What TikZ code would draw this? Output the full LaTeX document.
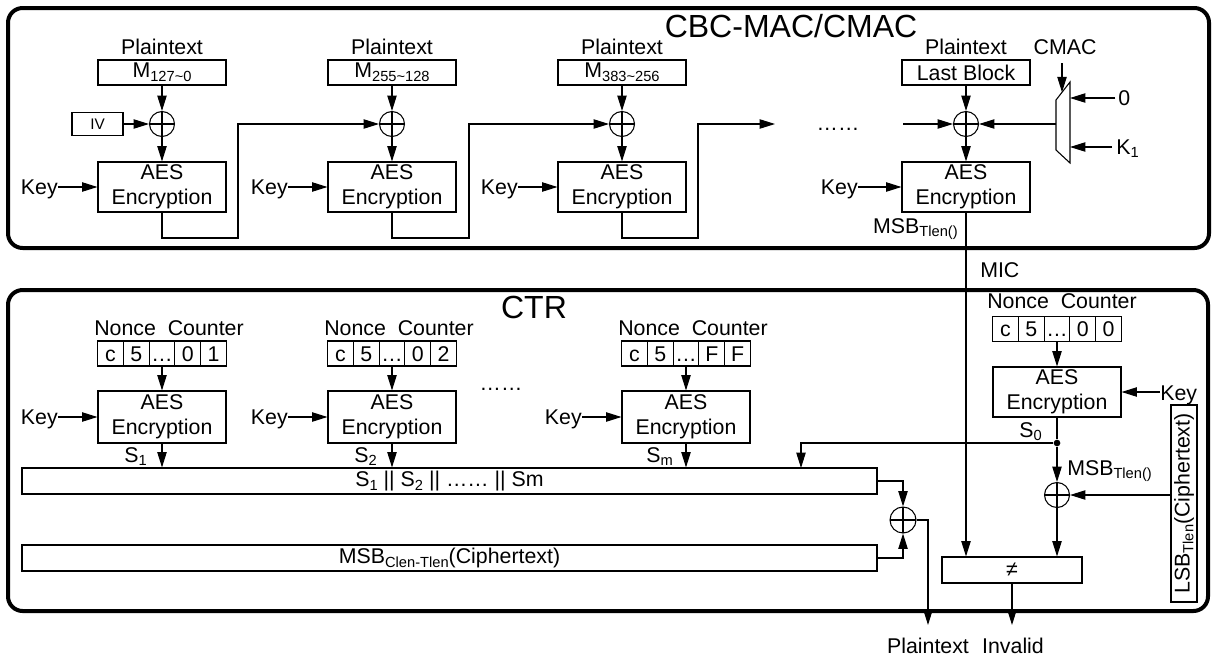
\documentclass[tikz,border=0pt]{standalone}
\usepackage{fontspec}
\setmainfont{Liberation Sans}
\usetikzlibrary{arrows.meta,calc}
\newcommand\sbx[1]{\raisebox{-0.35ex}{\fontsize{11pt}{12pt}\selectfont #1}}
\begin{document}
\begin{tikzpicture}[x=0.75pt,y=-0.75pt,
  every node/.style={font=\fontsize{16pt}{19pt}\selectfont, inner sep=0pt},
  ln/.style={line width=0.8pt},
  arr/.style={ln, -{Triangle[length=11.5pt,width=7pt]}},
  aesbox/.style={draw, ln, minimum width=96pt, minimum height=37.5pt, align=center},
  mbox/.style={draw, ln, minimum width=96pt, minimum height=18.75pt},
  xor/.style={draw, ln, circle, minimum size=18.75pt, path picture={\draw[ln] (path picture bounding box.north) -- (path picture bounding box.south) (path picture bounding box.west) -- (path picture bounding box.east);}},
  cell/.style={draw, ln, minimum width=19.35pt, minimum height=18.75pt, text height=11.4pt, text depth=0pt},
  outerframe/.style={line width=3pt, rounded corners=11pt},
  ttl/.style={font=\fontsize{24pt}{28pt}\selectfont, anchor=base},
  lbl/.style={anchor=base},
]
\useasboundingbox (0,0) rectangle (1212,657);

% ===== CBC-MAC / CMAC =====
\draw[outerframe] (8,8) rectangle (1209,248);
\node[ttl] (t1) at (791,37) {CBC-MAC/CMAC};

\foreach \n/\x/\s in {1/162/127\textasciitilde0, 2/392/255\textasciitilde128, 3/622/383\textasciitilde256} {
  \node[lbl] (pt\n) at (\x,54) {Plaintext};
  \node[mbox] (m\n) at (\x,72.5) {M\sbx{\s}};
  \node[xor] (x\n) at (\x,124) {};
  \node[aesbox] (a\n) at (\x,187) {AES\\Encryption};
  \draw[arr] (m\n) -- (x\n);
  \draw[arr] (x\n) -- (a\n);
  \node[lbl, anchor=base east] (k\n) at ({\x-104},194) {Key};
  \draw[arr] (k\n.east |- a\n.west) -- (a\n.west);
}
\node[lbl] (pt4) at (966,54) {Plaintext};
\node[mbox] (m4) at (966,72.5) {Last Block};
\node[xor] (x4) at (966,124) {};
\node[aesbox] (a4) at (966,187) {AES\\Encryption};
\draw[arr] (m4) -- (x4);
\draw[arr] (x4) -- (a4);
\node[lbl, anchor=base east] (k4) at (858,194) {Key};
\draw[arr] (k4.east |- a4.west) -- (a4.west);

\node[draw, ln, minimum width=38.25pt, minimum height=17.25pt, font=\fontsize{11.5pt}{13pt}\selectfont] (iv) at (97.5,124) {IV};
\draw[arr] (iv) -- (x1);

\coordinate (b1) at (238,238);
\coordinate (b2) at (469,238);
\coordinate (b3) at (698,238);
\coordinate (e3) at (775,124);
\draw[arr] (a1.south) |- (b1) |- (x2.west);
\draw[arr] (a2.south) |- (b2) |- (x3.west);
\draw[arr] (a3.south) |- (b3) |- (e3);
\node[lbl] (dots1) at (838,130) {……};
\coordinate (s4) at (903,124);
\draw[arr] (s4) -- (x4.west);

% mux
\draw[ln] (1056,100) -- (1070,82) -- (1070,163) -- (1056,150) -- cycle;
\coordinate (muxl) at (1056,124);
\coordinate (muxt) at (1062,92.3);
\coordinate (mux0) at (1070,98);
\coordinate (muxk) at (1070,147);
\node[lbl] (cmac) at (1065,54) {CMAC};
\coordinate (cmacs) at (1062,63);
\draw[arr] (cmacs) -- (muxt);
\node[lbl, anchor=base west] (zero) at (1118,105) {0};
\draw[arr] ([xshift=-2pt]zero.west |- mux0) -- (mux0);
\node[lbl, anchor=base west] (kone) at (1116,154) {K\sbx{1}};
\draw[arr] ([xshift=-3pt]kone.west |- muxk) -- (muxk);
\draw[arr] (muxl) -- (x4.east);

\node[lbl, anchor=base east] (msb1) at (958,233) {MSB\sbx{Tlen()}};
\node[lbl, anchor=base west] (mic) at (980,277) {MIC};

% ===== CTR =====
\draw[outerframe] (8,290) rectangle (1208,611);
\node[ttl] (t2) at (534,318) {CTR};

\node[draw, ln, minimum width=641.25pt, minimum height=19.5pt] (cat) at (449.5,481) {S\sbx{1} || S\sbx{2} || …… || Sm};
\node[draw, ln, minimum width=641.25pt, minimum height=19.5pt] (msbc) at (449.5,558) {MSB\sbx{Clen-Tlen}(Ciphertext)};

\foreach \n/\x/\a/\b in {1/162/0/1, 2/392/0/2, 3/686/F/F} {
  \node[lbl] (nc\n) at ({\x+7},335) {Nonce\ \ Counter};
  \foreach \t [count=\i from 0] in {c,5,…,\a,\b}
    \node[cell] (c\n-\i) at ({\x-51.6+25.8*\i},353.5) {\t};
  \node[aesbox, minimum height=39pt] (e\n) at (\x,417) {AES\\Encryption};
  \draw[arr] (c\n-2) -- (e\n);
  \node[lbl, anchor=base east] (ck\n) at ({\x-104},424) {Key};
  \draw[arr] (ck\n.east |- e\n.west) -- (e\n.west);
  \draw[arr] (e\n.south) -- (e\n.south |- cat.north);
}
\node[lbl, anchor=base east] (s1) at (147,462) {S\sbx{1}};
\node[lbl, anchor=base east] (s2) at (377,462) {S\sbx{2}};
\node[lbl, anchor=base east] (sm) at (673,462) {S\sbx{m}};
\node[lbl] (dots2) at (501,390) {……};

\node[xor, minimum size=19.5pt] (x5) at (903,520) {};
\draw[arr] (cat.east) -| (x5.north);
\draw[arr] (msbc.east) -| (x5.south);
\coordinate (p1) at (928,625);
\draw[arr] (x5.east) -| (p1);
\node[lbl] (ptout) at (928,653) {Plaintext};

% block 0
\node[lbl] (nc4) at (1062,308) {Nonce\ \ Counter};
\foreach \t [count=\i from 0] in {c,5,…,0,0}
  \node[cell] (c4-\i) at ({1057-51.6+25.8*\i},329) {\t};
\node[aesbox] (e4) at (1057,392) {AES\\Encryption};
\draw[arr] (c4-2) -- (e4);
\node[lbl, anchor=base west] (ck4) at (1160,400) {Key};
\draw[arr] (ck4.west |- e4.east) -- (e4.east);
\node[circle, fill, minimum size=5pt] (dot) at (1057,443) {};
\draw[ln] (e4.south) -- (dot);
\coordinate (s0t) at (801,468);
\draw[arr] (dot) -| (s0t);
\node[lbl, anchor=base east] (s0) at (1042,437) {S\sbx{0}};
\node[xor] (x6) at (1057,495) {};
\draw[arr] (dot) -- (x6);
\node[lbl, anchor=base west] (msb2) at (1067,475) {MSB\sbx{Tlen()}};
\node[draw, ln, rotate=90, minimum width=147.75pt, minimum height=19.5pt] (lsb) at (1184,503.5) {LSB\sbx{Tlen}(Ciphertext)};
\draw[arr] (lsb.north |- x6.east) -- (x6.east);

\node[draw, ln, minimum width=105pt, minimum height=19.5pt] (ne) at (1012,570) {≠};
\draw[arr] (x6) -- (x6 |- ne.north);
\draw[arr] (a4.south) -- (a4.south |- ne.north);
\coordinate (inv) at (1012,625);
\draw[arr] (ne.south) -- (inv);
\node[lbl] (invl) at (1013,653) {Invalid};
\end{tikzpicture}
\end{document}
